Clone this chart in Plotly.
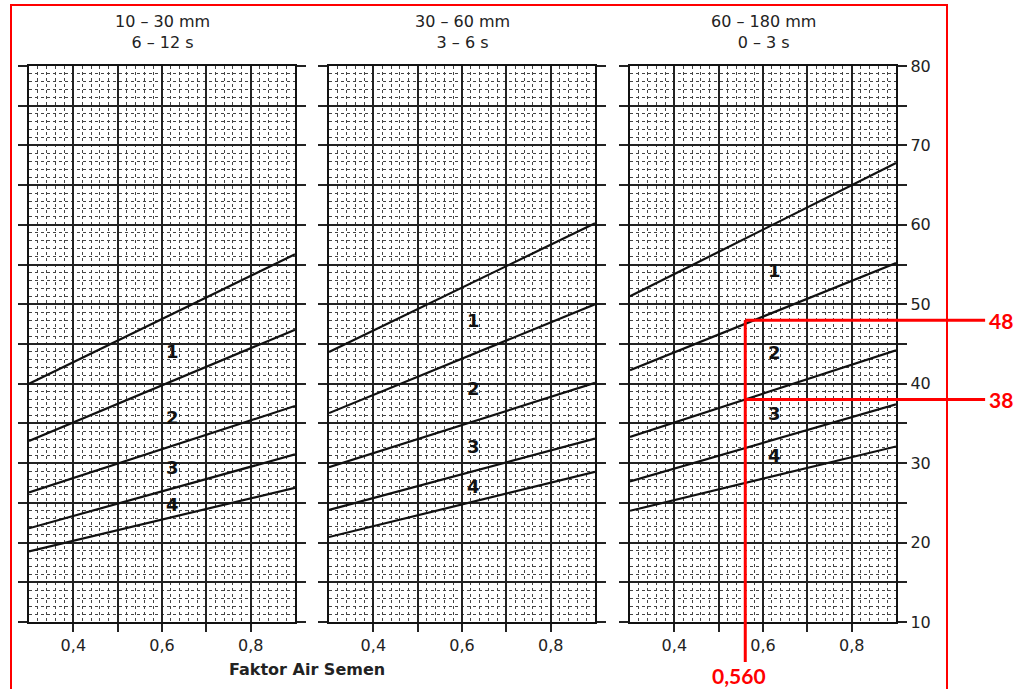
import plotly.graph_objects as go

# ---------------- data ----------------
x_range = [0.3, 0.9]
y_range = [10, 80]
wc_ends = [0.3, 0.9]

panel_titles = ["10 – 30 mm<br>6 – 12 s", "30 – 60 mm<br>3 – 6 s", "60 – 180 mm<br>0 – 3 s"]

p1_start = [40.0, 32.8, 26.3, 21.8, 18.9]
p1_end = [56.3, 46.8, 37.2, 31.1, 26.9]
p2_start = [44.0, 36.3, 29.5, 24.1, 20.7]
p2_end = [60.2, 50.0, 40.1, 33.1, 28.9]
p3_start = [51.0, 41.7, 33.3, 27.7, 24.0]
p3_end = [67.8, 55.2, 44.2, 37.4, 32.1]

zone_labels = ["1", "2", "3", "4"]
zone_label_x = [0.605, 0.606, 0.607]
p1_label_y = [44.1, 35.7, 29.5, 24.8]
p2_label_y = [48.0, 39.4, 32.1, 27.0]
p3_label_y = [54.3, 43.9, 36.3, 30.9]

x_tick_vals = [0.4, 0.5, 0.6, 0.7, 0.8]
x_tick_text = ["0,4", "", "0,6", "", "0,8"]
y_tick_vals = [10, 15, 20, 25, 30, 35, 40, 45, 50, 55, 60, 65, 70, 75, 80]
y_tick_text = ["10", "", "20", "", "30", "", "40", "", "50", "", "60", "", "70", "", "80"]

example_wc = 0.56
example_hi = 48
example_lo = 38
example_labels = ["48", "38", "0,560"]

x_axis_title = "Faktor Air Semen"

# ---------------- layout geometry ----------------
W, H = 1026, 689
x_domains = [[29 / W, 295 / W], [329 / W, 595 / W], [630 / W, 896 / W]]
y_domain = [1 - 622 / H, 1 - 66 / H]

starts = [p1_start, p2_start, p3_start]
ends = [p1_end, p2_end, p3_end]
label_ys = [p1_label_y, p2_label_y, p3_label_y]

FONT = "DejaVu Sans, Liberation Sans, Arial, sans-serif"
RFONT = "Lato, Liberation Sans, sans-serif"
fig = go.Figure()
annotations = []
shapes = []

for i in range(3):
    sfx = "" if i == 0 else str(i + 1)
    for s, e in zip(starts[i], ends[i]):
        fig.add_trace(go.Scatter(
            x=wc_ends, y=[s, e], mode="lines",
            line=dict(color="#111111", width=2.2),
            xaxis="x" + sfx, yaxis="y" + sfx,
            showlegend=False, hoverinfo="skip"))
    for lab, ly in zip(zone_labels, label_ys[i]):
        annotations.append(dict(
            x=zone_label_x[i], y=ly, xref="x" + sfx, yref="y" + sfx,
            text="<b>" + lab + "</b>", showarrow=False, xanchor="left",
            font=dict(family=FONT, size=18, color="#111111")))
    annotations.append(dict(
        x=(x_domains[i][0] + x_domains[i][1]) / 2, y=1 - 32 / H,
        xref="paper", yref="paper", text=panel_titles[i], showarrow=False,
        font=dict(family=FONT, size=16, color="#222222"),
        xanchor="center", yanchor="middle"))

    xa = dict(
        domain=x_domains[i], range=x_range, anchor="y" + sfx, automargin=False,
        tickmode="array", tickvals=x_tick_vals, ticktext=x_tick_text,
        ticks="outside", ticklen=8, tickwidth=1.6, tickcolor="#222222",
        showline=True, linewidth=2.4, linecolor="#111111", mirror=True,
        showgrid=True, gridcolor="#222222", gridwidth=1.5, zeroline=False,
        tickfont=dict(family=FONT, size=16, color="#222222"),
        minor=dict(tickmode="linear", tick0=0.3, dtick=0.02, showgrid=True,
                   gridcolor="#444444", gridwidth=1, griddash="dot", ticks=""),
        fixedrange=True)
    ya = dict(
        domain=y_domain, range=y_range, anchor="x" + sfx, automargin=False,
        tickmode="array", tickvals=y_tick_vals, ticktext=y_tick_text,
        ticks="outside", ticklen=9, tickwidth=1.6, tickcolor="#222222",
        showline=True, linewidth=2.4, linecolor="#111111", mirror="ticks",
        showgrid=True, gridcolor="#222222", gridwidth=1.5, zeroline=False,
        showticklabels=(i == 2), side="right" if i == 2 else "left",
        tickfont=dict(family=FONT, size=16, color="#222222"),
        minor=dict(tickmode="linear", tick0=10, dtick=1, showgrid=True,
                   gridcolor="#444444", gridwidth=1, griddash="dot", ticks=""),
        fixedrange=True)
    fig.update_layout({"xaxis" + sfx: xa, "yaxis" + sfx: ya})

# x-axis title
annotations.append(dict(
    x=307 / W, y=1 - 669 / H, xref="paper", yref="paper",
    text="<b>" + x_axis_title + "</b>", showarrow=False,
    font=dict(family=FONT, size=16, color="#222222"),
    xanchor="center", yanchor="middle"))

# red frame
shapes.append(dict(type="rect", xref="paper", yref="paper",
                   x0=11 / W, x1=947 / W, y0=-0.05, y1=1 - 5 / H,
                   line=dict(color="#ff0000", width=2), layer="above"))


# red reading lines on panel 3 (domain-relative coordinates derived from data)
def fx(v):
    return (v - x_range[0]) / (x_range[1] - x_range[0])


def fy(v):
    return (v - y_range[0]) / (y_range[1] - y_range[0])


RED = "#ff0000"
x_right = 1.335
shapes.append(dict(type="line", xref="x3 domain", yref="y3 domain",
                   x0=fx(example_wc), x1=fx(example_wc), y0=fy(example_hi), y1=-0.072,
                   line=dict(color=RED, width=3), layer="above"))
for v in [example_hi, example_lo]:
    shapes.append(dict(type="line", xref="x3 domain", yref="y3 domain",
                       x0=fx(example_wc), x1=x_right, y0=fy(v), y1=fy(v),
                       line=dict(color=RED, width=3), layer="above"))
for v, lab in zip([example_hi, example_lo], example_labels[:2]):
    annotations.append(dict(x=1.395, y=fy(v), xref="x3 domain", yref="y3 domain",
                            text="<b>" + lab + "</b>", showarrow=False,
                            font=dict(family=RFONT, size=21, color=RED),
                            xanchor="center", yanchor="middle"))
annotations.append(dict(x=fx(example_wc) - 0.022, y=-0.097, xref="x3 domain", yref="y3 domain",
                        text="<b>" + example_labels[2] + "</b>", showarrow=False,
                        font=dict(family=RFONT, size=21, color=RED),
                        xanchor="center", yanchor="middle"))

fig.update_layout(
    width=W, height=H, margin=dict(l=0, r=0, t=0, b=0),
    paper_bgcolor="white", plot_bgcolor="white",
    annotations=annotations, shapes=shapes, showlegend=False)

fig.write_html("out.html", config={"displayModeBar": False},
               post_script="document.body.style.margin='0';document.body.style.overflow='hidden';")
